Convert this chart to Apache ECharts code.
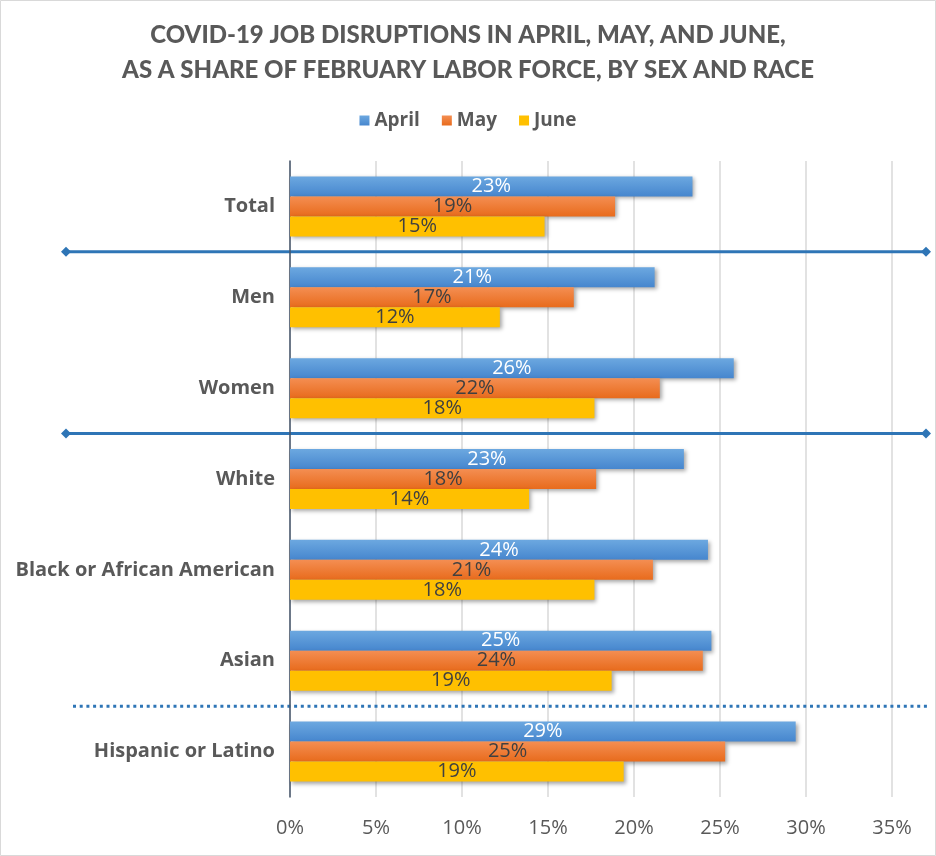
<!DOCTYPE html>
<html>
<head>
<meta charset="utf-8">
<script src="https://cdn.jsdelivr.net/npm/echarts@6/dist/echarts.min.js"></script>
<style>
html,body{margin:0;padding:0;background:#fff;}
#chart{width:936px;height:856px;}
</style>
</head>
<body>
<div id="chart"></div>
<script>
var categories = ['Total', 'Men', 'Women', 'White', 'Black or African American', 'Asian', 'Hispanic or Latino'];
var seriesNames = ['April', 'May', 'June'];
var april = [23.4, 21.2, 25.8, 22.9, 24.3, 24.5, 29.4];
var may   = [18.9, 16.5, 21.5, 17.8, 21.1, 24.0, 25.3];
var june  = [14.8, 12.2, 17.7, 13.9, 17.7, 18.7, 19.4];
var xTicks = [0, 5, 10, 15, 20, 25, 30, 35];

var FONT = "'Open Sans', Lato, sans-serif";
var TFONT = "Lato, 'Open Sans', sans-serif";
var chart = echarts.init(document.getElementById('chart'), null, {renderer: 'canvas'});

function grad(c1, c2) {
  return new echarts.graphic.LinearGradient(0, 0, 0, 1, [{offset: 0, color: c1}, {offset: 1, color: c2}]);
}
function mkSeries(name, data, c1, c2, labelColor) {
  return {
    name: name, type: 'bar', data: data, barWidth: 20, barGap: '0%',
    itemStyle: {color: grad(c1, c2), shadowColor: 'rgba(0,0,0,0.35)', shadowBlur: 4, shadowOffsetX: 2, shadowOffsetY: 2},
    label: {show: true, position: 'inside', color: labelColor, fontFamily: FONT, fontSize: 20, fontWeight: 'normal',
      formatter: function (p) { return Math.round(p.value) + '%'; }},
    emphasis: {disabled: true}
  };
}

chart.setOption({
  animation: false,
  backgroundColor: '#fff',
  title: {
    text: 'COVID-19 JOB DISRUPTIONS IN APRIL, MAY, AND JUNE,\nAS A SHARE OF FEBRUARY LABOR FORCE, BY SEX AND RACE',
    left: 'center', top: 13,
    textStyle: {fontFamily: TFONT, fontSize: 24, fontWeight: 900, color: '#595959', lineHeight: 35}
  },
  legend: {
    data: seriesNames, top: 106, left: 'center', icon: 'rect', itemWidth: 10, itemHeight: 10, itemGap: 22,
    textStyle: {fontFamily: FONT, fontSize: 19, fontWeight: 'bold', color: '#595959'}
  },
  grid: {left: 290, right: 44, top: 161, bottom: 59, containLabel: false},
  xAxis: {
    type: 'value', min: xTicks[0], max: xTicks[xTicks.length - 1], interval: 5,
    axisLine: {show: false}, axisTick: {show: false},
    axisLabel: {formatter: '{value}%', color: '#595959', fontFamily: FONT, fontSize: 20, margin: 21},
    splitLine: {lineStyle: {color: '#D9D9D9', width: 1.5}}
  },
  yAxis: {
    type: 'category', data: categories, inverse: true,
    axisLine: {lineStyle: {color: '#44546A', width: 1.5}}, axisTick: {show: false},
    axisLabel: {color: '#595959', fontFamily: FONT, fontSize: 20, fontWeight: 'bold', margin: 15}
  },
  series: [
    mkSeries('April', april, '#6CA8E0', '#4686CE', '#ffffff'),
    mkSeries('May', may, '#F48E52', '#E86B1C', '#404040'),
    mkSeries('June', june, '#FFC000', '#FFC000', '#404040')
  ]
});

function sepY(i) {
  var a = chart.convertToPixel({yAxisIndex: 0}, categories[i]);
  var b = chart.convertToPixel({yAxisIndex: 0}, categories[i + 1]);
  return (a + b) / 2;
}
function diamond(x, y) {
  return {type: 'polygon', shape: {points: [[x - 5, y], [x, y - 5], [x + 5, y], [x, y + 5]]}, style: {fill: '#2E75B6'}, silent: true};
}
var g = [{type: 'rect', shape: {x: 0.5, y: 0.5, width: 935, height: 855}, style: {fill: null, stroke: '#D9D9D9', lineWidth: 1}, silent: true}];
[0, 2].forEach(function (i) {
  var y = sepY(i);
  g.push({type: 'line', shape: {x1: 66, y1: y, x2: 926, y2: y}, style: {stroke: '#2E75B6', lineWidth: 3}, silent: true});
  g.push(diamond(66, y));
  g.push(diamond(926, y));
});
var yd = sepY(5);
g.push({type: 'line', shape: {x1: 73, y1: yd, x2: 928, y2: yd}, style: {stroke: '#2E75B6', lineWidth: 3, lineDash: [3, 3.7]}, silent: true});
chart.setOption({graphic: g});
</script>
</body>
</html>
